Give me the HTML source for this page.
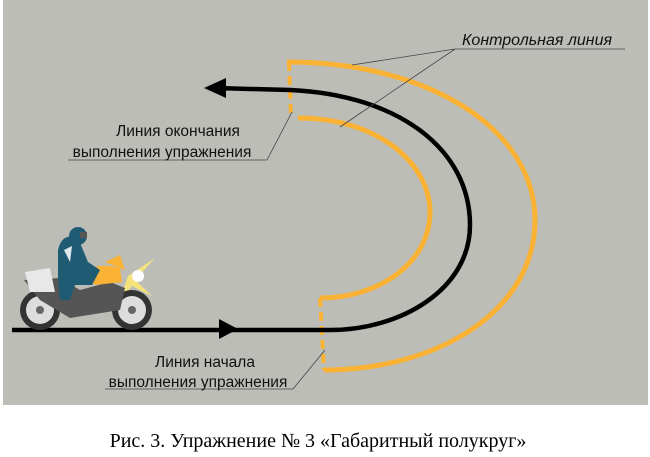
<!DOCTYPE html>
<html><head><meta charset="utf-8"><style>
html,body{margin:0;padding:0;background:#fff;width:650px;height:457px;overflow:hidden}
</style></head><body>
<svg width="650" height="457" viewBox="0 0 650 457" xmlns="http://www.w3.org/2000/svg">
<rect x="3" y="0" width="645" height="405" fill="#bdbdb8"/>
<g fill="none" stroke="#f9b233" stroke-width="5">
<path d="M287,62 C430,62 535,130 535,220 C535,310 440,368 330,370 L324,370"/>
<path d="M298,118 C380,118 430,165 430,212 C430,262 380,298 320,298"/>
<path d="M289,62 L291,118" stroke-dasharray="9,5" stroke-width="4"/>
<path d="M320,298 L324,370" stroke-dasharray="9,5" stroke-width="4"/>
</g>
<path d="M215,88 L290,90 C400,95 470,150 470,225 C470,290 400,330 330,330 L12,330" fill="none" stroke="#000" stroke-width="4.5"/>
<polygon points="204,88 226,78 226,98" fill="#000"/>
<polygon points="238,329 219,319 219,339" fill="#000"/>
<g stroke="#444" stroke-width="0.8" fill="none">
<path d="M625,49 L455,49 L352,65 M455,49 L340,127"/>
<path d="M68,160 L267,160 L292,112"/>
<path d="M105,389 L293,389 L325,350"/>
</g>
<g font-family="Liberation Sans, sans-serif" font-size="15.5" fill="#111">
<text x="462" y="45" font-style="italic" font-size="16">Контрольная линия</text>
<text x="178" y="136" text-anchor="middle">Линия окончания</text>
<text x="162" y="157" text-anchor="middle">выполнения упражнения</text>
<text x="205" y="367" text-anchor="middle">Линия начала</text>
<text x="198" y="387" text-anchor="middle">выполнения упражнения</text>
</g>
<!-- motorcycle -->
<g>
<polygon points="128,276 155,258 135,280 152,296 132,286 120,300" fill="#f5e27a"/>
<circle cx="138" cy="276" r="6" fill="#fff"/>
<circle cx="40" cy="310" r="20" fill="#333"/><circle cx="40" cy="310" r="14" fill="#ddd"/><circle cx="40" cy="310" r="4" fill="#666"/>
<circle cx="132" cy="310" r="20" fill="#333"/><circle cx="132" cy="310" r="14" fill="#ddd"/><circle cx="132" cy="310" r="4" fill="#666"/>
<path d="M24,280 L60,278 L80,290 L110,282 L125,288 L120,310 L70,318 L40,300 Z" fill="#555"/>
<path d="M25,272 L50,268 L55,292 L30,292 Z" fill="#e8e8e8"/>
<path d="M80,272 Q100,262 120,268 L122,282 L95,285 Z" fill="#f9b233"/>
<path d="M105,262 L120,255 L125,270 Z" fill="#f9b233"/>
<path d="M58,250 Q62,232 78,238 L88,262 L100,270 L92,285 L75,285 L70,300 L60,300 L58,280 Z" fill="#1f5b73"/>
<circle cx="78" cy="236" r="9" fill="#1f5b73"/>
<rect x="80" y="232" width="7" height="6" fill="#555"/>
<path d="M64,250 L72,246 L70,262 Z" fill="#dfe8ea"/>
</g>
<text x="318" y="447" text-anchor="middle" font-family="Liberation Serif, serif" font-size="20" fill="#000">Рис. 3. Упражнение № 3 «Габаритный полукруг»</text>
</svg>
</body></html>
